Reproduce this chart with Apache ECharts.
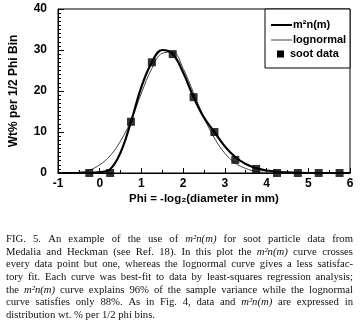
<!DOCTYPE html>
<html><head><meta charset="utf-8">
<script src="https://cdn.jsdelivr.net/npm/echarts@6/dist/echarts.min.js"></script>
<style>html,body{margin:0;padding:0;background:#fff}#c{width:360px;height:328px}</style>
</head><body><div id="c"></div>
<script>
// ---- data ----
const phiGrid = [-1, -0.75, -0.5, -0.25, 0, 0.25, 0.5, 0.75, 1, 1.25, 1.5, 1.75, 2, 2.25, 2.5, 2.75, 3, 3.25, 3.5, 3.75, 4, 4.25, 4.5, 4.75, 5, 5.5, 6];
const m2nValues = [0, 0, 0, 0, 0.2, 0.9, 5, 12.5, 21, 27, 30, 29, 24.5, 18.5, 13.5, 10, 6.5, 3.9, 2.2, 1.2, 0.6, 0.3, 0.15, 0.05, 0, 0, 0];
const lognormalValues = [0, 0.05, 0.2, 0.7, 2, 4.2, 7.8, 12.8, 19.5, 25.5, 29.2, 29.5, 25.5, 19.5, 13.5, 8.5, 4.8, 2.4, 1.1, 0.4, 0.15, 0.05, 0, 0, 0, 0, 0];
const sootPhi = [-0.25, 0.25, 0.75, 1.25, 1.75, 2.25, 2.75, 3.25, 3.75, 4.25, 4.75, 5.25, 5.75];
const sootValues = [0, 0, 12.5, 27, 29, 18.5, 10, 3.2, 1, 0, 0, 0, 0];
const seriesNames = ["m\u00B2n(m)", "lognormal", "soot data"];
const xAxisTitle = "Phi = -log\u2082(diameter in mm)";
const yAxisTitle = "Wt% per 1/2 Phi Bin";
const captionLines = [
  "FIG. 5. An example of the use of *m\u00B2n(m)* for soot particle data from",
  "Medalia and Heckman (see Ref. 18). In this plot the *m\u00B2n(m)* curve crosses",
  "every data point but one, whereas the lognormal curve gives a less satisfac-",
  "tory fit. Each curve was best-fit to data by least-squares regression analysis;",
  "the *m\u00B2n(m)* curve explains 96% of the sample variance while the lognormal",
  "curve satisfies only 88%. As in Fig. 4, data and *m\u00B2n(m)* are expressed in",
  "distribution wt. % per 1/2 phi bins."
];

// ---- build ----
const sansBold = {fontFamily: 'Liberation Sans', fontWeight: 'bold', color: '#000'};
const m2nData = phiGrid.map((x, i) => [x, m2nValues[i]]);
const logData = phiGrid.map((x, i) => [x, lognormalValues[i]]);
const sootData = sootPhi.map((x, i) => [x, sootValues[i]]);

// caption, justified
const capFontSize = 10.7;
const capX0 = 6, capX1 = 353, capY0 = 239, capLH = 12.7;
const cv = document.createElement('canvas').getContext('2d');
function measure(t, it) { cv.font = (it ? 'italic ' : '') + capFontSize + 'px "Liberation Serif"'; return cv.measureText(t).width; }
const graphics = [];
captionLines.forEach((line, li) => {
  const words = line.split(' ').map(w => {
    const it = w.startsWith('*') && w.endsWith('*');
    return {t: it ? w.slice(1, -1) : w, it};
  });
  const widths = words.map(w => measure(w.t, w.it));
  const total = widths.reduce((a, b) => a + b, 0);
  const last = li === captionLines.length - 1;
  const gap = last ? measure(' ', false) : (capX1 - capX0 - total) / (words.length - 1);
  let x = capX0;
  words.forEach((w, i) => {
    graphics.push({type: 'text', x: x, y: capY0 + li * capLH, style: {
      text: w.t, fontFamily: 'Liberation Serif', fontSize: capFontSize,
      fontStyle: w.it ? 'italic' : 'normal', fill: '#111', textVerticalAlign: 'middle'}});
    x += widths[i] + gap;
  });
});

// legend box
const lg = {x: 265, y: 9, w: 85, h: 59};
graphics.push({type: 'rect', shape: {x: lg.x, y: lg.y, width: lg.w, height: lg.h}, style: {fill: '#fff', stroke: '#000', lineWidth: 1}, z: 10});
const legendRows = [
  {y: 25, kind: 'bold', tx: 293},
  {y: 40, kind: 'thin', tx: 293},
  {y: 54, kind: 'square', tx: 290}
];
legendRows.forEach((r, i) => {
  if (r.kind === 'bold') graphics.push({type: 'line', shape: {x1: 271, y1: r.y, x2: 292, y2: r.y}, style: {stroke: '#000', lineWidth: 2}, z: 11});
  if (r.kind === 'thin') graphics.push({type: 'line', shape: {x1: 271, y1: r.y, x2: 292, y2: r.y}, style: {stroke: '#444', lineWidth: 1}, z: 11});
  if (r.kind === 'square') graphics.push({type: 'rect', shape: {x: 277, y: r.y - 3.5, width: 7, height: 7}, style: {fill: '#000'}, z: 11});
  graphics.push({type: 'text', x: r.tx, y: r.y, style: {text: seriesNames[i], fontFamily: 'Liberation Sans', fontWeight: 'bold', fontSize: 11, fill: '#000', textVerticalAlign: 'middle'}, z: 11});
});

const chart = echarts.init(document.getElementById('c'), null, {renderer: 'canvas'});
chart.setOption({
  animation: false,
  backgroundColor: '#fff',
  grid: {left: 58, right: 10, top: 9, bottom: 155, show: true, borderColor: '#000', borderWidth: 1, backgroundColor: 'transparent', containLabel: false, outerBoundsMode: 'none'},
  xAxis: {
    type: 'value', min: -1, max: 6, interval: 1,
    name: xAxisTitle, nameLocation: 'middle', nameGap: 20,
    nameTextStyle: Object.assign({fontSize: 11.5}, sansBold),
    axisLine: {onZero: false, lineStyle: {color: '#000', width: 1}},
    axisTick: {inside: true, length: 5, lineStyle: {color: '#000'}},
    minorTick: {show: true, splitNumber: 2, length: 3, lineStyle: {color: '#000'}},
    splitLine: {show: false},
    axisLabel: Object.assign({fontSize: 12, margin: 5}, sansBold)
  },
  yAxis: {
    type: 'value', min: 0, max: 40, interval: 10,
    name: yAxisTitle, nameLocation: 'middle', nameGap: 38, nameRotate: 90,
    nameTextStyle: Object.assign({fontSize: 12}, sansBold),
    axisLine: {show: true, onZero: false, lineStyle: {color: '#000', width: 1}},
    axisTick: {inside: true, length: 6, lineStyle: {color: '#000'}},
    minorTick: {show: true, splitNumber: 10, length: 3, lineStyle: {color: '#000'}},
    splitLine: {show: false},
    axisLabel: Object.assign({fontSize: 12, margin: 11}, sansBold)
  },
  series: [
    {name: seriesNames[0], type: 'line', data: m2nData, smooth: 0.4, showSymbol: false, symbol: 'none',
     lineStyle: {color: '#000', width: 2.2}, z: 3},
    {name: seriesNames[1], type: 'line', data: logData, smooth: 0.4, showSymbol: false, symbol: 'none',
     lineStyle: {color: '#444', width: 1}, z: 2},
    {name: seriesNames[2], type: 'scatter', data: sootData, symbol: 'rect', symbolSize: 8,
     itemStyle: {color: '#000'}, z: 4}
  ],
  graphic: graphics
});
</script>
</body></html>
